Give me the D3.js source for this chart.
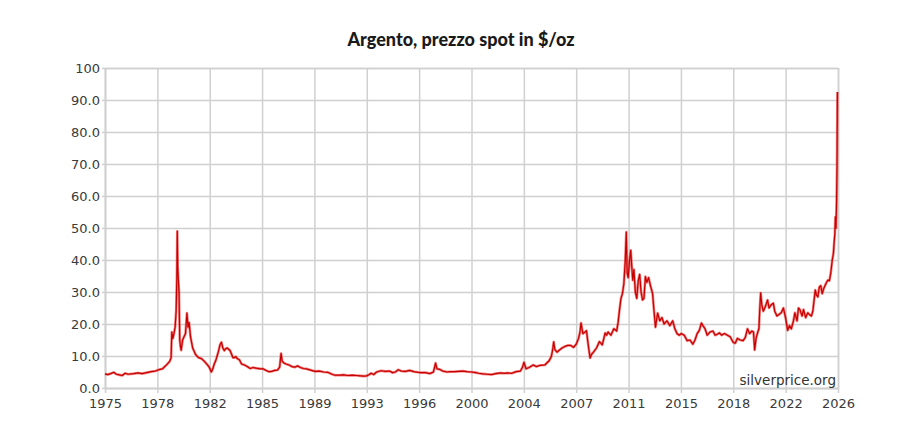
<!DOCTYPE html>
<html>
<head>
<meta charset="utf-8">
<script src="https://cdn.jsdelivr.net/npm/d3@7"></script>
<style>
  html, body { margin: 0; padding: 0; background: #fff; }
  svg { display: block; }
</style>
</head>
<body>
<svg id="chart" width="924" height="426"></svg>
<script>
// ---- DATA ----
const titleText = "Argento, prezzo spot in $/oz";
const sourceText = "silverprice.org";
const xTickLabels = ["1975","1978","1982","1985","1989","1993","1996","2000","2004","2007","2011","2015","2018","2022","2026"];
const yTickValues = [0,10,20,30,40,50,60,70,80,90,100];
const yTickLabels = ["0.0","10.0","20.0","30.0","40.0","50.0","60.0","70.0","80.0","90.0","100"];

// decimal year of each observation
const years = [
 1975.0,1975.2,1975.4,1975.6,1975.8,1976.0,1976.2,1976.4,1976.6,1976.8,1977.0,1977.3,1977.6,1977.9,1978.2,1978.5,1978.8,1979.0,1979.3,1979.5,
 1979.6,1979.65,1979.72,1979.8,1979.88,1979.95,1980.0,1980.03,1980.06,1980.1,1980.15,1980.2,1980.25,1980.3,1980.4,1980.5,1980.6,1980.7,1980.78,1980.85,
 1980.95,1981.1,1981.3,1981.5,1981.7,1981.9,1982.1,1982.25,1982.4,1982.5,1982.6,1982.7,1982.8,1982.9,1983.0,1983.1,1983.2,1983.3,1983.4,1983.5,
 1983.7,1983.9,1984.0,1984.1,1984.2,1984.35,1984.5,1984.7,1984.9,1985.1,1985.3,1985.5,1985.8,1986.0,1986.2,1986.4,1986.6,1986.8,1987.0,1987.15,
 1987.25,1987.32,1987.45,1987.6,1987.8,1988.0,1988.2,1988.4,1988.6,1988.8,1989.0,1989.3,1989.6,1989.9,1990.2,1990.5,1990.8,1991.0,1991.3,1991.6,
 1991.9,1992.2,1992.5,1992.8,1993.0,1993.2,1993.4,1993.5,1993.7,1993.9,1994.2,1994.5,1994.8,1995.0,1995.2,1995.4,1995.6,1995.9,1996.2,1996.5,
 1996.8,1997.0,1997.3,1997.6,1997.85,1998.0,1998.1,1998.3,1998.5,1998.8,1999.0,1999.3,1999.6,1999.9,2000.2,2000.5,2000.8,2001.0,2001.3,2001.6,
 2001.9,2002.2,2002.5,2002.8,2003.0,2003.3,2003.6,2003.9,2004.05,2004.15,2004.3,2004.5,2004.8,2005.0,2005.3,2005.6,2005.9,2006.05,2006.15,2006.22,
 2006.3,2006.45,2006.6,2006.8,2007.0,2007.2,2007.4,2007.6,2007.8,2007.95,2008.05,2008.12,2008.25,2008.4,2008.5,2008.62,2008.75,2008.85,2009.0,2009.2,
 2009.4,2009.6,2009.8,2009.9,2010.0,2010.2,2010.4,2010.6,2010.7,2010.8,2010.9,2011.0,2011.1,2011.2,2011.27,2011.33,2011.4,2011.5,2011.58,2011.65,
 2011.72,2011.8,2011.9,2012.0,2012.1,2012.2,2012.3,2012.4,2012.5,2012.6,2012.7,2012.82,2012.95,2013.1,2013.2,2013.3,2013.45,2013.6,2013.75,2013.9,
 2014.1,2014.3,2014.5,2014.65,2014.8,2014.95,2015.1,2015.3,2015.5,2015.7,2015.9,2016.05,2016.2,2016.35,2016.5,2016.6,2016.75,2016.9,2017.1,2017.3,
 2017.45,2017.6,2017.75,2017.9,2018.1,2018.3,2018.5,2018.7,2018.85,2019.0,2019.2,2019.4,2019.55,2019.7,2019.85,2020.0,2020.12,2020.2,2020.3,2020.42,
 2020.5,2020.55,2020.62,2020.7,2020.8,2020.95,2021.1,2021.2,2021.35,2021.5,2021.6,2021.75,2021.9,2022.05,2022.2,2022.35,2022.5,2022.62,2022.75,2022.9,
 2023.0,2023.15,2023.25,2023.35,2023.5,2023.6,2023.75,2023.9,2024.0,2024.15,2024.25,2024.35,2024.42,2024.5,2024.6,2024.7,2024.8,2024.9,2025.0,2025.1,
 2025.2,2025.3,2025.4,2025.5,2025.6,2025.68,2025.74,2025.78,2025.82,2025.86,2025.9,2025.93,2025.96
];
// spot price, $/oz
const prices = [
 4.4,4.2,4.5,4.9,4.3,4.1,3.9,4.6,4.3,4.4,4.5,4.7,4.5,4.8,5.1,5.3,5.8,6.0,7.3,8.3,
 9.5,17.5,15.5,17.0,19.0,24.0,35.0,49.0,38.0,34.0,30.0,15.0,13.0,11.8,15.0,16.0,17.0,23.4,19.0,20.5,
 16.0,12.5,10.5,9.5,9.2,8.4,7.4,6.5,5.0,6.0,7.5,8.5,10.0,11.5,13.5,14.3,12.5,11.7,12.3,12.5,
 11.7,9.5,9.5,9.8,9.2,8.8,7.5,7.2,6.7,6.1,6.4,6.2,6.0,6.0,5.5,5.1,5.2,5.5,5.6,6.5,
 10.8,8.5,7.8,7.5,7.2,6.7,6.5,6.9,6.4,6.1,6.0,5.6,5.2,5.3,5.0,4.9,4.3,4.0,4.0,4.1,
 3.9,4.0,3.9,3.8,3.7,3.8,4.2,4.6,4.2,5.0,5.4,5.2,5.3,4.8,5.0,5.7,5.3,5.2,5.5,5.1,
 4.9,4.8,4.8,4.5,5.0,7.8,6.0,5.8,5.3,5.0,5.1,5.1,5.2,5.3,5.1,5.0,4.8,4.6,4.4,4.3,
 4.2,4.5,4.7,4.6,4.7,4.6,5.1,5.3,6.5,8.0,6.0,6.4,7.2,6.7,7.1,7.2,8.5,9.8,12.0,14.4,
 12.0,11.2,11.8,12.5,13.0,13.3,13.3,12.7,13.8,15.5,17.5,20.3,17.0,17.5,17.9,13.5,9.4,10.5,11.3,12.5,
 14.5,13.5,17.2,16.5,17.5,16.5,18.5,17.8,20.5,24.5,28.0,29.5,32.5,40.0,48.7,36.0,34.5,40.0,43.0,38.0,
 33.7,37.0,30.0,28.0,33.5,35.5,30.0,27.5,28.0,34.8,33.0,34.5,32.0,29.5,24.0,19.0,23.4,21.0,22.0,20.0,
 21.0,19.5,21.0,18.5,17.0,16.5,17.0,16.5,14.8,15.0,13.7,15.0,17.0,18.0,20.3,19.5,18.5,16.5,17.5,17.8,
 16.5,16.8,17.2,16.5,17.0,16.5,16.0,14.3,14.0,15.5,15.0,14.8,15.8,18.5,17.0,17.8,17.5,11.9,15.5,17.5,
 18.5,24.0,29.7,26.0,24.0,25.5,27.5,25.0,26.0,26.5,24.0,22.5,23.0,23.5,25.0,22.0,18.0,19.5,18.5,21.0,
 23.5,21.0,25.0,24.5,22.5,24.5,22.0,23.5,23.0,22.5,24.0,28.0,30.6,29.0,28.5,31.5,32.0,29.5,31.0,32.0,
 33.0,33.7,33.5,36.0,40.0,42.0,46.0,48.0,53.5,50.0,58.0,69.0,92.5
];

// ---- LAYOUT ----
const W = 924, H = 426;
const margin = {left: 105, right: 86, top: 68, bottom: 38};
const svg = d3.select("#chart");

const x = d3.scaleLinear().domain([1975, 2026]).range([margin.left, W - margin.right]);
const y = d3.scaleLinear().domain([0, 100]).range([H - margin.bottom, margin.top]);

const nT = xTickLabels.length;
const xTickVals = d3.range(nT).map(i => 1975 + i * (2026 - 1975) / (nT - 1));

const gridColor = "#d0d0d0";
const textColor = "#3a3a3a";
const fontFam = "'DejaVu Sans', sans-serif";

// horizontal gridlines + y axis
const yAxis = d3.axisLeft(y)
  .tickValues(yTickValues)
  .tickSize(-(x.range()[1] - x.range()[0]))
  .tickPadding(5)
  .tickFormat((d, i) => yTickLabels[i]);
const gy = svg.append("g").attr("transform", `translate(${margin.left},0)`).call(yAxis);
gy.select(".domain").attr("stroke", gridColor).attr("stroke-width", 1.5);
gy.selectAll(".tick line").attr("stroke", gridColor).attr("stroke-width", 1.5).attr("x1", -3);
gy.selectAll(".tick text").attr("fill", textColor).attr("font-family", fontFam).attr("font-size", 13);

// vertical gridlines + x axis
const xAxis = d3.axisBottom(x)
  .tickValues(xTickVals)
  .tickSize(-(y.range()[0] - y.range()[1]))
  .tickPadding(11)
  .tickFormat((d, i) => xTickLabels[i]);
const gx = svg.append("g").attr("transform", `translate(0,${H - margin.bottom})`).call(xAxis);
gx.select(".domain").attr("stroke", gridColor).attr("stroke-width", 1.5);
gx.selectAll(".tick line").attr("stroke", gridColor).attr("stroke-width", 1.5).attr("y1", 5);
gx.selectAll(".tick text").attr("fill", textColor).attr("font-family", fontFam).attr("font-size", 13);

// price line
const data = years.map((yr, i) => ({yr, v: prices[i]}));
const line = d3.line().x(d => x(d.yr)).y(d => y(d.v));
svg.append("path").datum(data)
  .attr("d", line)
  .attr("fill", "none")
  .attr("stroke", "#f02828")
  .attr("stroke-width", 2.6)
  .attr("stroke-opacity", 0.6)
  .attr("stroke-linejoin", "round");
svg.append("path").datum(data)
  .attr("d", line)
  .attr("fill", "none")
  .attr("stroke", "#c40000")
  .attr("stroke-width", 1.2)
  .attr("stroke-linejoin", "round");

// title
svg.append("text")
  .attr("x", 461).attr("y", 46)
  .attr("text-anchor", "middle")
  .attr("font-family", "Lato, 'Open Sans', sans-serif")
  .attr("font-weight", 900)
  .attr("font-size", 18)
  .attr("fill", "#1a1a1a")
  .text(titleText);

// source label
svg.append("text")
  .attr("x", 836).attr("y", 385)
  .attr("text-anchor", "end")
  .attr("font-family", fontFam)
  .attr("font-size", 13.5)
  .attr("fill", "#333")
  .text(sourceText);
</script>
</body>
</html>
